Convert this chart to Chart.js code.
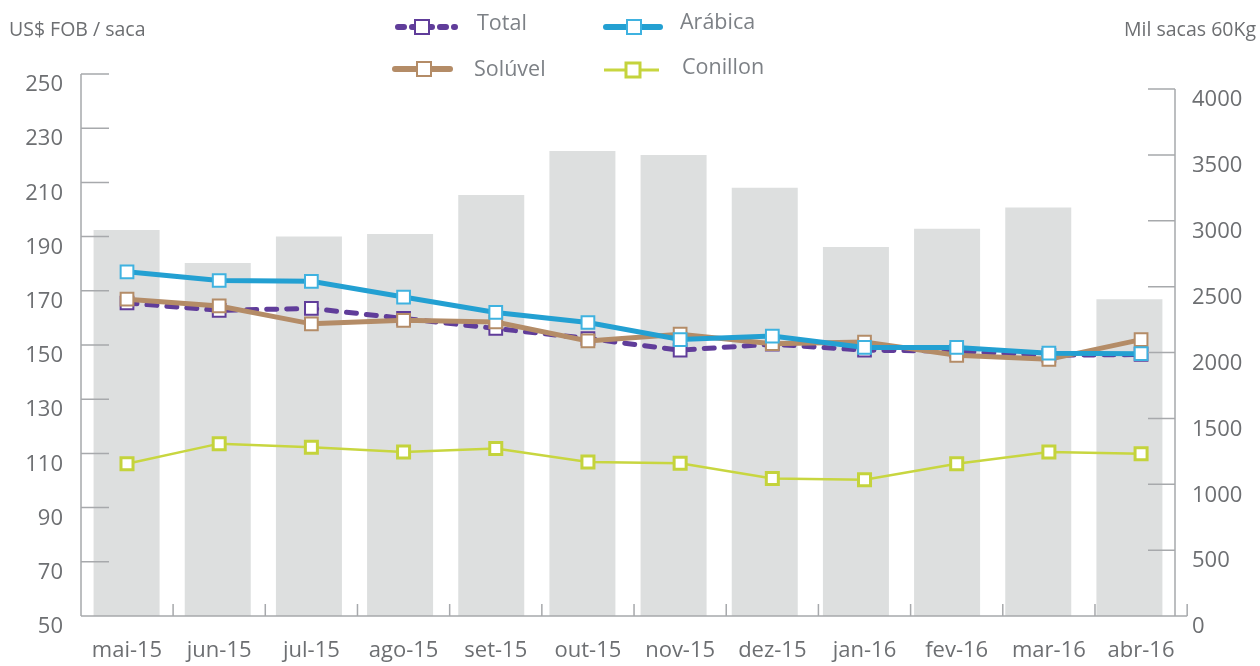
<!DOCTYPE html>
<html lang="pt-BR">
<head>
<meta charset="utf-8">
<title>Exportações de café</title>
<script src="https://cdn.jsdelivr.net/npm/chart.js@4.4.1/dist/chart.umd.min.js"></script>
<style>
  html, body { margin: 0; padding: 0; background: #fff; }
  #wrap { position: relative; width: 1260px; height: 666px; }
  #wrap canvas, #legenda { position: absolute; left: 0; top: 0; }
</style>
</head>
<body>
<div id="wrap">
  <canvas id="grafico" width="1260" height="666"></canvas>
  <svg id="legenda" width="1260" height="90" font-family="'Open Sans', sans-serif">
    <text x="9" y="36" font-size="19.5" fill="#6d6f72">US$ FOB / saca</text>
    <text x="1256" y="36" font-size="19.5" fill="#6d6f72" text-anchor="end">Mil sacas 60Kg</text>

    <g font-size="21.5" fill="#7d8186">
      <line x1="398" y1="27" x2="455" y2="27" stroke="#603d9a" stroke-width="6" stroke-linecap="round" stroke-dasharray="6 8"/>
      <rect x="415" y="20" width="14" height="14" fill="#fff" stroke="#603d9a" stroke-width="2"/>
      <text x="477" y="30">Total</text>

      <line x1="606" y1="27" x2="660" y2="27" stroke="#23a0d2" stroke-width="6" stroke-linecap="round"/>
      <rect x="627" y="20" width="14" height="14" fill="#fff" stroke="#3fb2e0" stroke-width="2"/>
      <text x="680" y="29">Arábica</text>

      <line x1="395" y1="69" x2="450" y2="69" stroke="#b48c67" stroke-width="6" stroke-linecap="round"/>
      <rect x="417" y="62" width="14" height="14" fill="#fff" stroke="#b48c67" stroke-width="2"/>
      <text x="474" y="76">Solúvel</text>

      <line x1="604" y1="70" x2="659" y2="70" stroke="#c8d640" stroke-width="3"/>
      <rect x="626" y="63" width="14" height="14" fill="#fff" stroke="#c4d33c" stroke-width="3"/>
      <text x="682" y="74">Conillon</text>
    </g>
  </svg>
</div>
<script>
/* dados */
const MESES    = ['mai-15','jun-15','jul-15','ago-15','set-15','out-15','nov-15','dez-15','jan-16','fev-16','mar-16','abr-16'];
const EMBARQUES = [2930, 2680, 2880, 2900, 3195, 3530, 3500, 3250, 2800, 2940, 3100, 2405]; // mil sacas (barras)
const TOTAL    = [165.5, 162.8, 163.5, 159.8, 156.1, 152.4, 148.1, 150.3, 148.1, 147.7, 146.2, 146.5];
const ARABICA  = [177.0, 173.8, 173.5, 167.7, 162.0, 158.3, 152.0, 153.3, 149.1, 149.1, 147.0, 146.8];
const SOLUVEL  = [166.9, 164.4, 157.8, 159.1, 158.5, 151.5, 154.0, 150.5, 151.1, 146.2, 144.7, 152.0];
const CONILLON = [106.2, 113.6, 112.3, 110.5, 111.8, 106.8, 106.4, 100.7, 100.3, 106.2, 110.5, 109.9];
const TICKS_DIR = [0, 500, 1000, 1500, 2000, 2500, 3000, 3500, 4000];

const COR_EIXO  = '#a7a9ac';
const COR_TEXTO = '#6d6f72';

Chart.defaults.font.family = "'Open Sans', sans-serif";
Chart.defaults.font.size   = 22;
Chart.defaults.color       = COR_TEXTO;

const serie = (label, valores, cor, extra) => Object.assign({
  type: 'line',
  label,
  data: valores.map((v, i) => ({ x: i, y: v })),
  xAxisID: 'x',
  yAxisID: 'y',
  borderColor: cor,
  borderWidth: 5,
  tension: 0,
  fill: false,
  pointStyle: 'rect',
  pointRadius: 9,
  pointHoverRadius: 9,
  pointBackgroundColor: '#fff',
  pointBorderColor: cor,
  pointBorderWidth: 2
}, extra);

/* eixos desenhados à mão: traços para dentro da área */
const marcasEixos = {
  id: 'marcasEixos',
  afterDraw(chart) {
    const { ctx, chartArea: a, scales } = chart;
    const yl = scales.y, yr = scales.y1, xl = scales.x;
    ctx.save();
    ctx.strokeStyle = COR_EIXO;
    ctx.lineWidth = 1.5;
    ctx.beginPath();
    // esquerdo
    ctx.moveTo(a.left, a.top); ctx.lineTo(a.left, a.bottom);
    yl.ticks.forEach(t => {
      const y = yl.getPixelForValue(t.value);
      ctx.moveTo(a.left, y); ctx.lineTo(a.left + 28, y);
    });
    // direito
    ctx.moveTo(a.right, yr.getPixelForValue(4000)); ctx.lineTo(a.right, a.bottom);
    TICKS_DIR.forEach(v => {
      const y = yr.getPixelForValue(v);
      ctx.moveTo(a.right - 27, y); ctx.lineTo(a.right, y);
    });
    // base
    const fim = xl.getPixelForValue(MESES.length - 0.5);
    ctx.moveTo(a.left, a.bottom); ctx.lineTo(fim, a.bottom);
    MESES.forEach((_, i) => {
      const x = xl.getPixelForValue(i + 0.5);
      ctx.moveTo(x, a.bottom); ctx.lineTo(x, a.bottom - 12);
    });
    ctx.stroke();
    ctx.restore();
  }
};

new Chart(document.getElementById('grafico'), {
  type: 'bar',
  data: {
    labels: MESES,
    datasets: [
      serie('Arábica', ARABICA, '#23a0d2', { pointBorderColor: '#3fb2e0', order: 1 }),
      serie('Solúvel', SOLUVEL, '#b48c67', { order: 2 }),
      serie('Total', TOTAL, '#603d9a', { borderDash: [10, 10], borderCapStyle: 'round', order: 3 }),
      serie('Conillon', CONILLON, '#c8d640', { borderWidth: 2.5, pointBorderWidth: 3, pointRadius: 8.5, pointBorderColor: '#c4d33c', order: 4 }),
      {
        type: 'bar',
        label: 'Embarques',
        data: EMBARQUES,
        xAxisID: 'xb',
        yAxisID: 'y1',
        backgroundColor: '#dddfdf',
        grouped: false,
        barPercentage: 0.724,
        categoryPercentage: 1,
        order: 5
      }
    ]
  },
  options: {
    responsive: false,
    animation: false,
    layout: { padding: { top: 74, left: 0, right: 0, bottom: 0 } },
    plugins: { legend: { display: false }, tooltip: { enabled: false } },
    scales: {
      x: {
        type: 'linear',
        position: 'bottom',
        offset: false,
        min: -0.499,
        max: 11.368,
        grid: { display: false, drawTicks: false },
        border: { display: false },
        afterBuildTicks: s => { s.ticks = MESES.map((_, i) => ({ value: i })); },
        ticks: { autoSkip: false, maxRotation: 0, padding: 22, callback: v => MESES[v] },
        afterFit: s => { s.height = 50; }
      },
      xb: {
        type: 'category',
        display: false,
        offset: true,
        grid: { offset: true }
      },
      y: {
        position: 'left',
        min: 50,
        max: 250,
        grid: { display: false, drawTicks: false },
        border: { display: false },
        ticks: { stepSize: 20, padding: 18, labelOffset: 11 },
        afterFit: s => { s.width = 81; }
      },
      y1: {
        position: 'right',
        min: 0,
        max: 4114,
        grid: { display: false, drawTicks: false },
        border: { display: false },
        afterBuildTicks: s => { s.ticks = TICKS_DIR.map(v => ({ value: v })); },
        ticks: { padding: 17, labelOffset: 11, callback: v => String(v) },
        afterFit: s => { s.width = 85; }
      }
    }
  },
  plugins: [marcasEixos]
});
</script>
</body>
</html>
